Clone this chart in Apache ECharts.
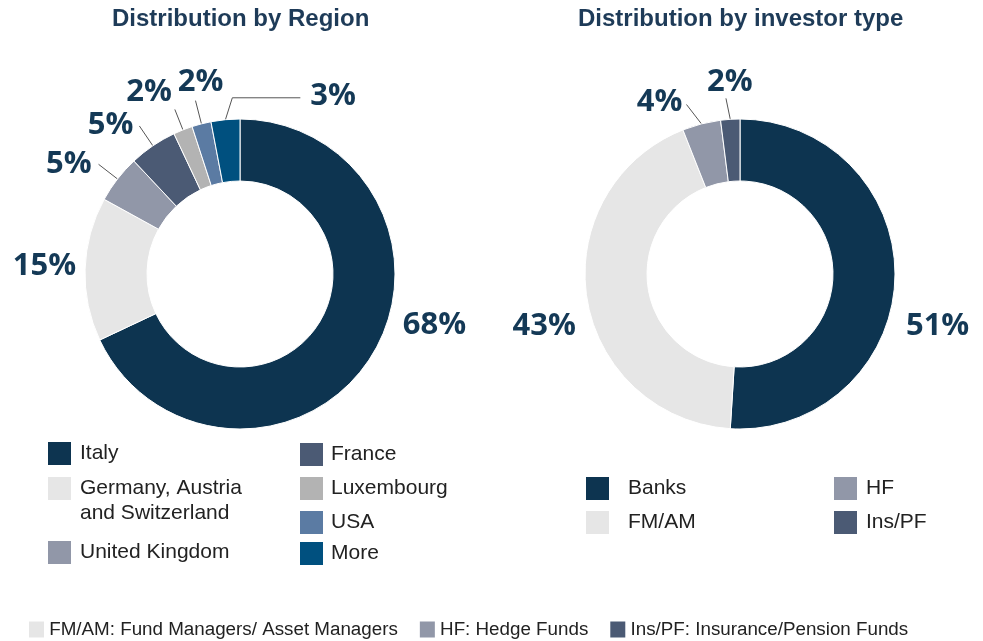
<!DOCTYPE html>
<html>
<head>
<meta charset="utf-8" />
<title>Distribution by Region / investor type</title>
<style>
  html, body { margin: 0; padding: 0; background: #fff; }
  #main { width: 983px; height: 641px; }
</style>
</head>
<body>
<div id="main"></div>
<script src="https://cdn.jsdelivr.net/npm/echarts@6/dist/echarts.min.js"></script>
<script>
// ---- data ----
var regionNames = ['Italy', 'Germany, Austria and Switzerland', 'United Kingdom', 'France', 'Luxembourg', 'USA', 'More'];
var regionShares = [68, 15, 5, 5, 2, 2, 3];
var investorNames = ['Banks', 'FM/AM', 'HF', 'Ins/PF'];
var investorShares = [51, 43, 4, 2];
var footnotes = ['FM/AM: Fund Managers/ Asset Managers', 'HF: Hedge Funds', 'Ins/PF: Insurance/Pension Funds'];

// ---- styles ----
var regionColors = ['#0d3450', '#e6e6e6', '#9197a8', '#4b5a74', '#b3b3b3', '#5b7ba3', '#00507f'];
var investorColors = ['#0d3450', '#e6e6e6', '#9197a8', '#4b5a74'];
var navy = '#143956';

// where each % label sits relative to the slice edge (leader line: radial len, sideways bend, horizontal hx)
var regionLabelPlace = [
  { len: 0, dx: 32, dy: -32, align: 'left' },
  { len: 0, dx: -9, dy: -3, align: 'right' },
  { len: 24, dx: -7, dy: 0, align: 'right' },
  { len: 24, dx: -6, dy: -1, align: 'right' },
  { len: 22, dx: -3, dy: -17, align: 'right' },
  { len: 24, dx: 5, dy: -18, align: 'center' },
  { len: 22, bend: 9, hx: 68, dx: 10, dy: -2, align: 'left' }
];
var investorLabelPlace = [
  { len: 0, dx: 11, dy: 47, align: 'left' },
  { len: 0, dx: -11, dy: 28, align: 'right' },
  { len: 20, bend: -10, dx: -4, dy: -2, align: 'right' },
  { len: 21, bend: -3, dx: 4, dy: -16, align: 'center' }
];

function placeLabels(places) {
  return function (params) {
    var pts = params.labelLinePoints;
    var p = places[params.dataIndex];
    if (!pts || !p) return {};
    var p0 = pts[0], p1 = pts[1];
    var ux = p1[0] - p0[0], uy = p1[1] - p0[1];
    var l = Math.sqrt(ux * ux + uy * uy) || 1;
    ux /= l; uy /= l;
    var e = [p0[0] + ux * p.len + (p.bend || 0), p0[1] + uy * p.len];
    var f = [e[0] + (p.hx || 0), e[1]];
    return {
      x: f[0] + p.dx,
      y: f[1] + p.dy,
      align: p.align,
      verticalAlign: 'middle',
      labelLinePoints: p.len ? [p0, e, f] : [p0, p0, p0]
    };
  };
}

function pieSeries(names, values, colors, center, places) {
  return {
    type: 'pie',
    radius: [93, 155],
    center: center,
    avoidLabelOverlap: false,
    animation: false,
    itemStyle: { borderColor: '#fff', borderWidth: 1 },
    label: {
      position: 'outside',
      formatter: '{c}%',
      fontFamily: 'Open Sans',
      fontWeight: 'bold',
      fontSize: 31,
      color: navy
    },
    labelLine: { show: true, length: 10, length2: 0, lineStyle: { color: '#555', width: 1 } },
    labelLayout: placeLabels(places),
    data: names.map(function (n, i) {
      return { name: n, value: values[i], itemStyle: { color: colors[i] } };
    })
  };
}

var legendText = { fontFamily: 'Liberation Sans', fontSize: 21, color: '#222', lineHeight: 21 };

function legendItem(name, left, top, gap, extra) {
  var ts = Object.assign({}, legendText, { padding: [0, 0, 0, gap] }, extra || {});
  return {
    data: [name], left: left, top: top, padding: 0,
    icon: 'rect', itemWidth: 23, itemHeight: 23,
    itemStyle: { borderWidth: 0 },
    selectedMode: false,
    textStyle: ts,
    // long name: blank first line so the first text line sits level with the square
    formatter: function (n) {
      return n.indexOf(', Austria and') > 0 ? '\n' + n.replace(', Austria and', ', Austria\nand') : n;
    }
  };
}

var legends = [
  legendItem(regionNames[0], 48, 442, 4),
  legendItem(regionNames[1], 48, 451, 4, { lineHeight: 25 }),
  legendItem(regionNames[2], 48, 541, 4),
  legendItem(regionNames[3], 300, 443, 3),
  legendItem(regionNames[4], 300, 477, 3),
  legendItem(regionNames[5], 300, 511, 3),
  legendItem(regionNames[6], 300, 542, 3),
  legendItem(investorNames[0], 586, 477, 14),
  legendItem(investorNames[1], 586, 511, 14),
  legendItem(investorNames[2], 834, 477, 4),
  legendItem(investorNames[3], 834, 511, 4)
];

var titleText = { fontFamily: 'Liberation Sans', fontSize: 24, fontWeight: 'bold', color: '#1e3b58' };

var chart = echarts.init(document.getElementById('main'));
chart.setOption({
  animation: false,
  title: [
    { text: 'Distribution by Region', left: 112, top: 7, padding: 0, textStyle: titleText },
    { text: 'Distribution by investor type', left: 578, top: 7, padding: 0, textStyle: titleText },
    {
      left: 29, top: 620, padding: 0,
      text: '{a|}{t| ' + footnotes[0] + '}{g|}{b|}{t| ' + footnotes[1] + '}{g|}{c|}{t| ' + footnotes[2] + '}',
      textStyle: {
        fontWeight: 'normal',
        rich: {
          a: { width: 15, height: 16, backgroundColor: investorColors[1] },
          b: { width: 15, height: 16, backgroundColor: investorColors[2] },
          c: { width: 15, height: 16, backgroundColor: investorColors[3] },
          g: { width: 22 },
          t: { fontFamily: 'Liberation Sans', fontSize: 18.8, fontWeight: 'normal', color: '#222' }
        }
      }
    }
  ],
  legend: legends,
  series: [
    pieSeries(regionNames, regionShares, regionColors, [240, 274], regionLabelPlace),
    pieSeries(investorNames, investorShares, investorColors, [740, 274], investorLabelPlace)
  ]
});
</script>
</body>
</html>
